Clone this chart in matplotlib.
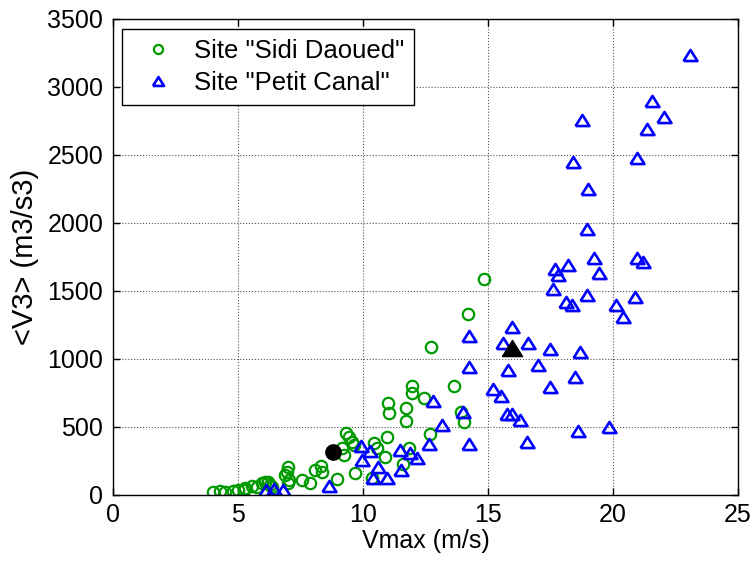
import matplotlib
matplotlib.use("Agg")
import matplotlib.pyplot as plt

plt.rcParams['font.family'] = ['Liberation Sans', 'DejaVu Sans']

# Site "Sidi Daoued"
sidi_x = [4.0, 4.28, 4.48, 4.8, 5.0, 5.25, 5.28, 5.55, 5.75, 5.96, 6.08, 6.2, 6.28, 6.35,
          6.88, 6.95, 7.0, 7.05, 7.0, 7.55, 7.88, 8.08, 8.3, 8.35, 8.95, 9.15, 9.22, 9.33,
          9.45, 9.55, 9.64, 9.66, 10.35, 10.45, 10.55, 10.87, 10.97, 10.99, 11.02, 11.6,
          11.73, 11.73, 11.85, 11.96, 11.96, 12.43, 12.68, 12.72, 13.65, 13.92, 14.04,
          14.21, 14.85]
sidi_y = [22, 30, 24, 29, 40, 35, 50, 65, 60, 86, 98, 98, 74, 60,
          147, 172, 208, 110, 86, 110, 90, 184, 210, 170, 120, 343, 294, 456,
          424, 392, 368, 162, 125, 380, 345, 280, 426, 679, 605, 230,
          637, 546, 345, 801, 749, 711, 448, 1085, 801, 610, 534,
          1330, 1590]

# Site "Petit Canal"
petit_x = [6.1, 6.42, 6.8, 8.62, 9.93, 9.95, 10.28, 10.41, 10.61, 10.97, 11.48, 11.5,
           11.86, 12.16, 12.65, 12.81, 13.15, 13.99, 14.25, 14.25, 14.25, 15.21, 15.51,
           15.59, 15.77, 15.95, 15.97, 15.8, 16.28, 16.55, 16.58, 16.99, 17.48, 17.48,
           17.59, 17.68, 17.81, 18.12, 18.21, 18.35, 18.41, 18.46, 18.61, 18.68, 18.75,
           18.95, 18.97, 18.99, 19.24, 19.45, 19.84, 20.12, 20.39, 20.88, 20.97, 20.95,
           21.21, 21.37, 21.55, 22.04, 23.08]
petit_y = [35, 42, 40, 63, 362, 260, 325, 123, 205, 123, 331, 186,
           309, 273, 372, 692, 515, 610, 1169, 941, 375, 777, 728,
           1120, 598, 1232, 592, 919, 554, 392, 1120, 956, 1071, 796,
           1512, 1659, 1618, 1421, 1691, 1397, 2451, 865, 471, 1052, 2757,
           1471, 1956, 2248, 1740, 1630, 502, 1397, 1311, 1458, 2475, 1740,
           1716, 2689, 2899, 2777, 3235]

# mean points (black)
mean_x = [8.81, 15.95]
mean_y = [314, 1083]

xticks = [0, 5, 10, 15, 20, 25]
yticks = [0, 500, 1000, 1500, 2000, 2500, 3000, 3500]

green = '#009a00'
blue = '#0000ff'
tri = [(-1, -0.8), (1, -0.8), (0, 0.8), (-1, -0.8)]

fig = plt.figure(figsize=(7.54, 5.63), dpi=100)
ax = fig.add_axes([113/754, 68/563, 625/754, 476/563])

ax.plot(sidi_x, sidi_y, 'o', ls='none', mfc='none', mec=green, mew=1.6, ms=8.2,
        label='Site "Sidi Daoued"')
ax.plot(petit_x, petit_y, marker=tri, ls='none', mfc='none', mec=blue, mew=1.9, ms=10,
        label='Site "Petit Canal"')
ax.plot(mean_x[:1], mean_y[:1], 'o', ls='none', color='black', ms=11)
ax.plot(mean_x[1:], mean_y[1:], marker=tri, ls='none', color='black', ms=14.5)

ax.set_xlim(0, 25)
ax.set_ylim(0, 3500)
ax.set_xticks(xticks)
ax.set_yticks(yticks)
ax.tick_params(direction='in', top=True, right=True, labelsize=18, length=5, width=1)
ax.tick_params(axis='y', pad=7)
ax.tick_params(axis='x', pad=6)
ax.grid(True, linestyle=':', color='#555555', linewidth=0.8)
ax.set_axisbelow(True)
for s in ax.spines.values():
    s.set_linewidth(1.0)

ax.set_xlabel('Vmax (m/s)', fontsize=18, labelpad=1)
ax.set_ylabel('<V3> (m3/s3)', fontsize=21, labelpad=6)

leg = ax.legend(loc='upper left', bbox_to_anchor=(0.0144, 0.979), borderaxespad=0,
                fontsize=18.5, fancybox=False, framealpha=1, edgecolor='black',
                handletextpad=0.4, borderpad=0.4, labelspacing=0.3, handlelength=2.0,
                markerscale=0.8)
leg.get_frame().set_linewidth(1.0)

fig.savefig('out.png', dpi=100)
